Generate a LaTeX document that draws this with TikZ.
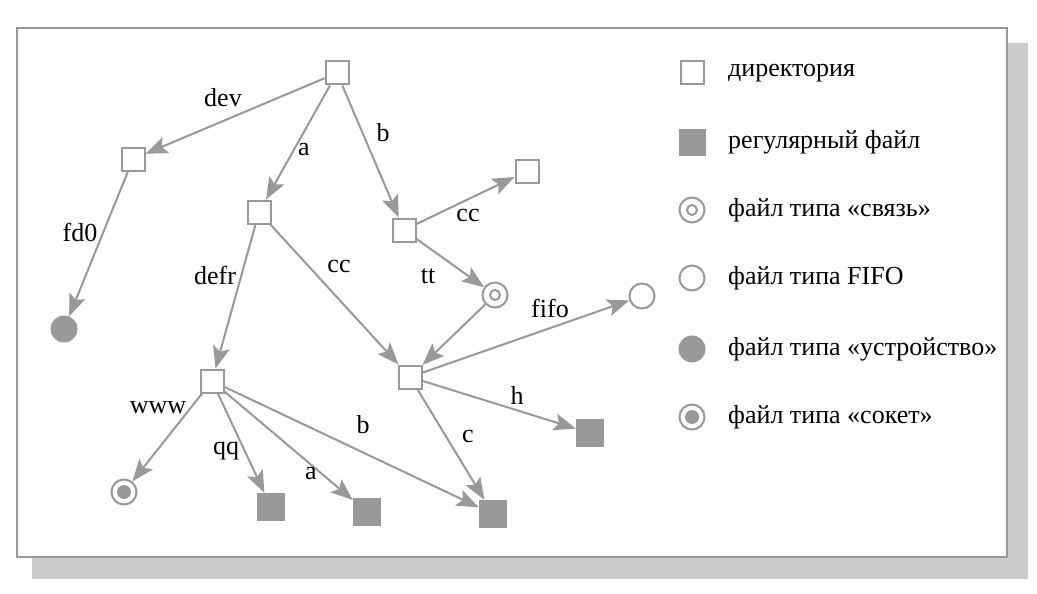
\documentclass[tikz,border=0pt]{standalone}
\usepackage{fontspec}
\setmainfont{Liberation Serif}
\usetikzlibrary{arrows.meta}
\definecolor{ln}{HTML}{999999}
\definecolor{sh}{HTML}{CCCCCC}
\begin{document}
\begin{tikzpicture}[x=1pt,y=-1pt,
  dirnode/.style={draw=ln,line width=2pt,fill=white,minimum size=23pt,inner sep=0pt,shape=rectangle},
  regnode/.style={fill=ln,minimum size=28pt,inner sep=0pt,shape=rectangle},
  ringnode/.style={draw=ln,line width=2pt,fill=white,circle,minimum size=25pt,inner sep=0pt},
  devnode/.style={fill=ln,circle,minimum size=27pt,inner sep=0pt},
  conn/.style={draw=ln,line width=2pt,-{Stealth[length=22pt,width=17pt,inset=4.5pt]}},
  lbl/.style={font=\fontsize{26}{28}\selectfont,inner sep=0pt},
  legtxt/.style={font=\fontsize{26}{28}\selectfont,inner sep=0pt,anchor=west}
]
\useasboundingbox (0,0) rectangle (1037,594);
% shadow and frame
\fill[sh] (32,43) rectangle (1028,579);
\draw[ln,line width=2pt,fill=white] (17,28) rectangle (1007,557);

% nodes
\node[dirnode] (root) at (337,73) {};
\node[dirnode] (dev) at (133,159) {};
\node[dirnode] (a) at (259,212) {};
\node[dirnode] (b) at (404,230) {};
\node[dirnode] (bcc) at (527,171) {};
\node[ringnode] (tt) at (495,295) {};
\draw[ln,line width=2pt] (tt.center) circle (5);
\node[devnode] (fd0) at (64,329) {};
\node[dirnode] (www) at (212,381) {};
\node[dirnode] (cc) at (410,377) {};
\node[ringnode] (fifo) at (642,296) {};
\node[regnode] (h) at (590,433) {};
\node[ringnode] (sock) at (124,492) {};
\fill[ln] (sock.center) circle (7);
\node[regnode] (qq) at (271,507) {};
\node[regnode] (fa) at (367,512) {};
\node[regnode] (fb) at (493,514) {};

% connectors
\draw[conn] (root) -- (dev);
\draw[conn] (root) -- (a);
\draw[conn] (root) -- (b);
\draw[conn] (b) -- (bcc);
\draw[conn] (b) -- (tt);
\draw[conn] (dev) -- (fd0);
\draw[conn] (a) -- (www);
\draw[conn] (a) -- (cc);
\draw[conn] (tt) -- (cc);
\draw[conn] (cc) -- (fifo);
\draw[conn] (cc) -- (h);
\draw[conn] (cc) -- (fb);
\draw[conn] (www) -- (sock);
\draw[conn] (www) -- (qq);
\draw[conn] (www) -- (fa);
\draw[conn] (www) -- (fb);

% labels
\node[lbl] (ldev) at (223,98) {dev};
\node[lbl] (la) at (304,150) {a};
\node[lbl] (lb) at (383,133) {b};
\node[lbl] (lbcc) at (468,216) {cc};
\node[lbl] (lfd) at (80,232) {fd0};
\node[lbl] (ldefr) at (215,275) {defr};
\node[lbl] (lcc) at (339,267) {cc};
\node[lbl] (ltt) at (428,276) {tt};
\node[lbl] (lfifo) at (550,308) {fifo};
\node[lbl] (lh) at (517,395) {h};
\node[lbl] (lc) at (468,436) {c};
\node[lbl] (lwww) at (158,408) {www};
\node[lbl] (lqq) at (226,451) {qq};
\node[lbl] (lfa) at (311,474) {a};
\node[lbl] (lfb) at (363,425) {b};

% legend
\node[dirnode] (k1) at (692,73) {};
\node[legtxt] (t1) at (728,73) {директория};
\node[regnode,minimum size=27pt] (k2) at (692,142) {};
\node[legtxt] (t2) at (728,142) {регулярный файл};
\node[ringnode] (k3) at (692,210) {};
\draw[ln,line width=2pt] (k3.center) circle (5);
\node[legtxt] (t3) at (728,210) {файл типа «связь»};
\node[ringnode] (k4) at (692,278) {};
\node[legtxt] (t4) at (728,278) {файл типа FIFO};
\node[devnode] (k5) at (692,349) {};
\node[legtxt] (t5) at (728,349) {файл типа «устройство»};
\node[ringnode] (k6) at (692,417) {};
\fill[ln] (k6.center) circle (7);
\node[legtxt] (t6) at (728,417) {файл типа «сокет»};
\end{tikzpicture}
\end{document}
